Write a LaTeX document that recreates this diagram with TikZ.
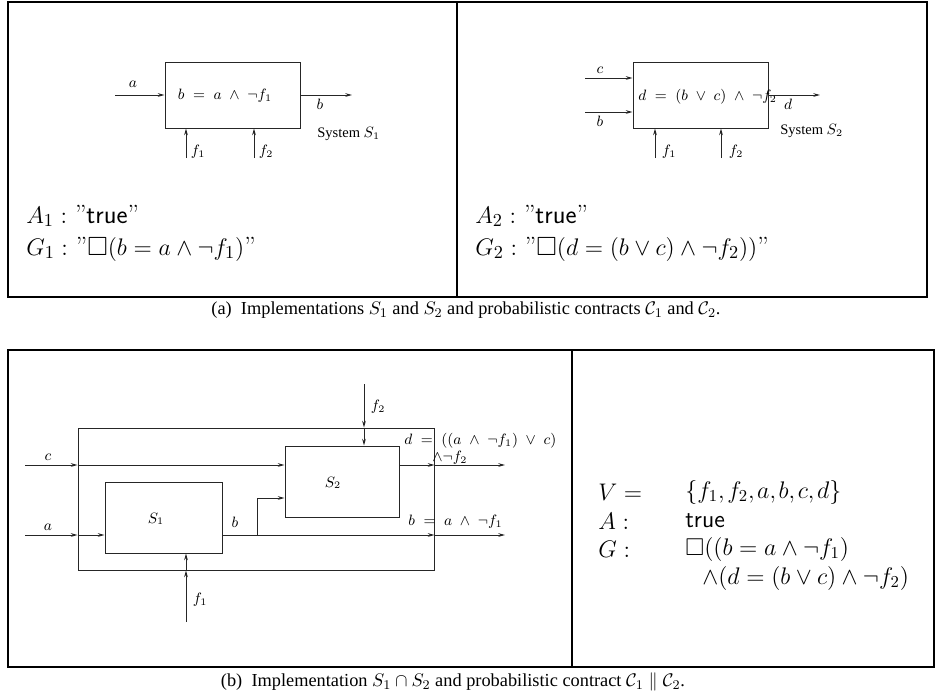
\documentclass[tikz,border=0pt]{standalone}
\usepackage{amssymb}
\usepackage{fontspec}
\newfontfamily\timesfont{Liberation Serif}
\usetikzlibrary{arrows.meta}
\def\u{0.6pt}
\begin{document}
\begin{tikzpicture}[x=0.6pt,y=-0.6pt,
  frm/.style={line width=1.7pt},
  wire/.style={line width=0.55pt, draw=black!85},
  arr/.style={wire,-{Stealth[length=4pt,width=2.2pt]}},
  box/.style={draw=black!85, line width=0.6pt, inner sep=0pt},
  lbl/.style={font=\fontsize{9.2}{11}\selectfont, inner sep=0pt},
  sys/.style={font=\timesfont\fontsize{8.7}{10}\selectfont, inner sep=0pt},
  big/.style={font=\fontsize{15.8}{18}\selectfont, inner sep=0pt, anchor=west},
  rt/.style={font=\fontsize{14.6}{17}\selectfont, inner sep=0pt, anchor=west},
  captxt/.style={font=\timesfont\fontsize{11}{13}\selectfont, inner sep=0pt}]
\useasboundingbox (0,0) rectangle (935,694);
% frames
\draw[frm] (8,2) rectangle (927,297);
\draw[frm] (457,2) -- (457,297);
\draw[frm] (8,350) rectangle (934,667);
\draw[frm] (572,350) -- (572,667);

% ---------- top left: S1
\node[box, minimum width=135*\u, minimum height=66*\u] (B1) at (232.5,95) {};
\node[lbl] (B1t) at (225,96) {$b\;=\;a\;\wedge\;\neg f_1$};
\coordinate (a0) at (115,95);
\coordinate (b0) at (352,95);
\draw[arr] (a0) -- (B1.west);
\draw[arr] (B1.east) -- (b0);
\coordinate (f1s) at (186,158);
\coordinate (f2s) at (254,158);
\draw[arr] (f1s) -- (f1s |- B1.south);
\draw[arr] (f2s) -- (f2s |- B1.south);
\node[lbl] (la) at (133,84) {$a$};
\node[lbl] (lb) at (320,104) {$b$};
\node[lbl] (lf1) at (198,152) {$f_1$};
\node[lbl] (lf2) at (266,152) {$f_2$};
\node[sys, anchor=west] (sys1) at (317,134) {System $S_1$};
\node[big] (A1) at (26,216) {$A_1 :$ ''\textsf{true}''};
\node[big] (G1) at (26,249) {$G_1 :$ ''$\square(b = a\wedge\neg f_1)$''};

% ---------- top right: S2
\node[box, minimum width=135*\u, minimum height=66*\u] (B2) at (700.5,95) {};
\node[lbl, anchor=west] (B2t) at (638,97) {$d\;=\;(b\;\vee\;c)\;\wedge\;\neg f_2$};
\coordinate (c0) at (585,78);
\coordinate (bb0) at (585,112);
\coordinate (d0) at (820,95);
\draw[arr] (c0) -- (c0 -| B2.west);
\draw[arr] (bb0) -- (bb0 -| B2.west);
\draw[arr] (B2.east) -- (d0);
\coordinate (g1s) at (655,158);
\coordinate (g2s) at (721,158);
\draw[arr] (g1s) -- (g1s |- B2.south);
\draw[arr] (g2s) -- (g2s |- B2.south);
\node[lbl] (lc2) at (600,70) {$c$};
\node[lbl] (lb2) at (600,121) {$b$};
\node[lbl] (ld2) at (788,104) {$d$};
\node[lbl] (lg1) at (669,152) {$f_1$};
\node[lbl] (lg2) at (736,152) {$f_2$};
\node[sys, anchor=west] (sys2) at (780,131) {System $S_2$};
\node[big] (A2) at (475,216) {$A_2 :$ ''\textsf{true}''};
\node[big] (G2) at (475,249) {$G_2 :$ ''$\square(d = (b\vee c)\wedge\neg f_2))$''};

\node[captxt] (capa) at (466,310) {(a)\ \ Implementations $S_1$ and $S_2$ and probabilistic contracts $\mathcal{C}_1$ and $\mathcal{C}_2$.};

% ---------- bottom left: composition
\node[box, minimum width=356*\u, minimum height=142*\u] (BB) at (256,499) {};
\node[box, minimum width=117*\u, minimum height=71*\u] (S1) at (163.5,517.5) {};
\node[box, minimum width=114*\u, minimum height=71*\u] (S2) at (342,481.5) {};
\node[lbl] (S1t) at (156,519) {$S_1$};
\node[lbl] (S2t) at (333,483) {$S_2$};
% c line
\coordinate (cin) at (25,465);
\coordinate (cout) at (505,465);
\draw[arr] (cin) -- (cin -| BB.west);
\draw[arr] (cin -| BB.west) -- (cin -| S2.west);
% a line
\coordinate (ain) at (25,535);
\coordinate (bout) at (505,535);
\draw[arr] (ain) -- (ain -| BB.west);
\draw[arr] (ain -| BB.west) -- (ain -| S1.west);
% b line
\draw[arr] (ain -| S1.east) -- (ain -| BB.east);
\draw[arr] (ain -| BB.east) -- (bout);
% branch
\coordinate (br) at (257,535);
\coordinate (brt) at (257,498);
\draw[arr] (br) -- (brt) -- (brt -| S2.west);
% d line
\draw[arr] (cin -| S2.east) -- (cin -| BB.east);
\draw[arr] (cin -| BB.east) -- (cout);
% f2
\coordinate (f2t) at (364,384);
\draw[arr] (f2t) -- (f2t |- BB.north);
\draw[arr] (f2t |- BB.north) -- (f2t |- S2.north);
% f1
\coordinate (f1b) at (186,622);
\draw[arr] (f1b) -- (f1b |- BB.south);
\draw[arr] (f1b |- BB.south) -- (f1b |- S1.south);
% labels
\node[lbl] (lc) at (48,457) {$c$};
\node[lbl] (la3) at (48,527) {$a$};
\node[lbl] (lb3) at (235,522) {$b$};
\node[lbl] (lf23) at (378,407) {$f_2$};
\node[lbl] (lf13) at (200,600) {$f_1$};
\node[lbl, anchor=west] (dtx) at (404,441) {$d\;=\;((a\;\wedge\;\neg f_1)\;\vee\;c)$};
\node[lbl, anchor=west] (dtx2) at (432,458) {$\wedge\neg f_2$};
\node[lbl, anchor=west] (btx) at (408,522) {$b\;=\;a\;\wedge\;\neg f_1$};

% ---------- bottom right
\node[rt] (Vl) at (598,492) {$V =$};
\node[rt] (Vr) at (685,492) {$\{f_1,\mskip-1mu f_2,\mskip-1mu a,\mskip-1mu b,\mskip-1mu c,\mskip-1mu d\}$};
\node[rt] (Al) at (598,521) {$A :$};
\node[rt] (Ar) at (685,521) {\textsf{true}};
\node[rt] (Gl) at (598,549) {$G :$};
\node[rt] (Gr) at (685,549) {$\square((b = a\wedge\neg f_1)$};
\node[rt] (Gr2) at (702,578) {$\wedge(d = (b\vee c)\wedge\neg f_2)$};

\node[captxt] (capb) at (453,682) {(b)\ \ Implementation $S_1\cap S_2$ and probabilistic contract $\mathcal{C}_1\parallel\mathcal{C}_2$.};
\end{tikzpicture}
\end{document}
